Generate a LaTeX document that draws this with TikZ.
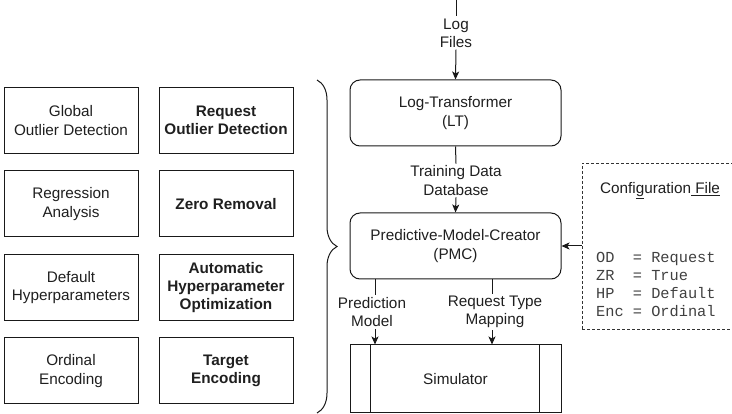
\documentclass[tikz,border=0pt]{standalone}
\usepackage{fontspec}
\setmainfont{Liberation Sans}
\setmonofont{Liberation Mono}
\usetikzlibrary{arrows.meta,decorations.pathreplacing}
\begin{document}
\begin{tikzpicture}[x=1pt,y=-1pt,
  every node/.style={font=\fontsize{15.3}{18.3}\selectfont, text=black!88},
  proc/.style={draw=black!90, rounded corners=10pt, minimum width=211pt, minimum height=66pt, align=center, line width=1pt},
  opt/.style={draw=black!90, minimum width=134pt, minimum height=66pt, align=center, line width=1pt, inner sep=1pt},
  optb/.style={opt, font=\fontsize{15.3}{18.3}\selectfont\bfseries},
  lbl/.style={align=center, inner sep=2pt},
  arr/.style={-{Stealth[length=8pt,width=7pt,inset=2pt]}, line width=1pt, draw=black!90},
  ln/.style={line width=1pt, draw=black!90}
]
\useasboundingbox (0,0) rectangle (732,414);
\begin{scope}
\clip (0,0) rectangle (732,414);
% main chain
\coordinate (top) at (456,0);
\node[lbl] (logf) at (456,33) {Log\\Files};
\node[proc] (lt) at (455.5,113) {Log-Transformer\\(LT)};
\node[lbl] (tdd) at (456,180.5) {Training Data\\Database};
\node[proc] (pmc) at (455.5,246) {Predictive-Model-Creator\\(PMC)};
\node[draw=black!90, line width=1pt, minimum width=211pt, minimum height=68pt] (sim) at (455.5,379) {Simulator};
\draw[ln] ([xshift=21pt]sim.north west) -- ([xshift=21pt]sim.south west);
\draw[ln] ([xshift=-22pt]sim.north east) -- ([xshift=-22pt]sim.south east);

\draw[ln] (top) -- (logf.north);
\draw[arr] (logf.south) -- (lt.north);
\draw[ln] (lt.south) -- (tdd.north);
\draw[arr] (tdd.south) -- (pmc.north);

\coordinate (xa) at (375,0);
\coordinate (xb) at (492,0);
\node[lbl] (pml) at (372,312) {Prediction\\Model};
\node[lbl] (rtm) at (495,312) {Request Type\\Mapping};
\draw[ln] (pmc.south -| xa) -- (pml.north -| xa);
\draw[arr] (pml.south -| xa) -- (sim.north -| xa);
\draw[ln] (pmc.south -| xb) -- (rtm.north -| xb);
\draw[arr] (rtm.south -| xb) -- (sim.north -| xb);

% configuration file
\node[draw=black!80, line width=0.9pt, dash pattern=on 3pt off 2pt, minimum width=163pt, minimum height=166pt] (cfg) at (663.5,246) {};
\node[inner sep=0pt] (cfgt) at (660,191) {Confi\underline{g}uration\underline{\ File}};
\node[anchor=west, inner sep=0pt, align=left, font=\fontsize{15.3}{18.3}\selectfont\ttfamily, text=black!75] (cfgv) at (596,284.5) {OD\ \ = Request\\ZR\ \ = True\\HP\ \ = Default\\Enc = Ordinal};
\draw[arr] (cfg.west) -- (pmc.east);

% options
\node[opt] (g1) at (71,120.5) {Global\\Outlier Detection};
\node[optb] (r1) at (226,120.5) {Request\\Outlier Detection};
\node[opt] (g2) at (71,204) {Regression\\Analysis};
\node[optb] (r2) at (226,204) {Zero Removal};
\node[opt] (g3) at (71,287.5) {Default\\Hyperparameters};
\node[optb] (r3) at (226,287.5) {Automatic\\Hyperparameter\\Optimization};
\node[opt] (g4) at (71,371) {Ordinal\\Encoding};
\node[optb] (r4) at (226,371) {Target\\Encoding};

% brace
\draw[ln, decorate, decoration={brace, amplitude=20pt}] (317,80) -- (317,413);
\end{scope}
\end{tikzpicture}
\end{document}
